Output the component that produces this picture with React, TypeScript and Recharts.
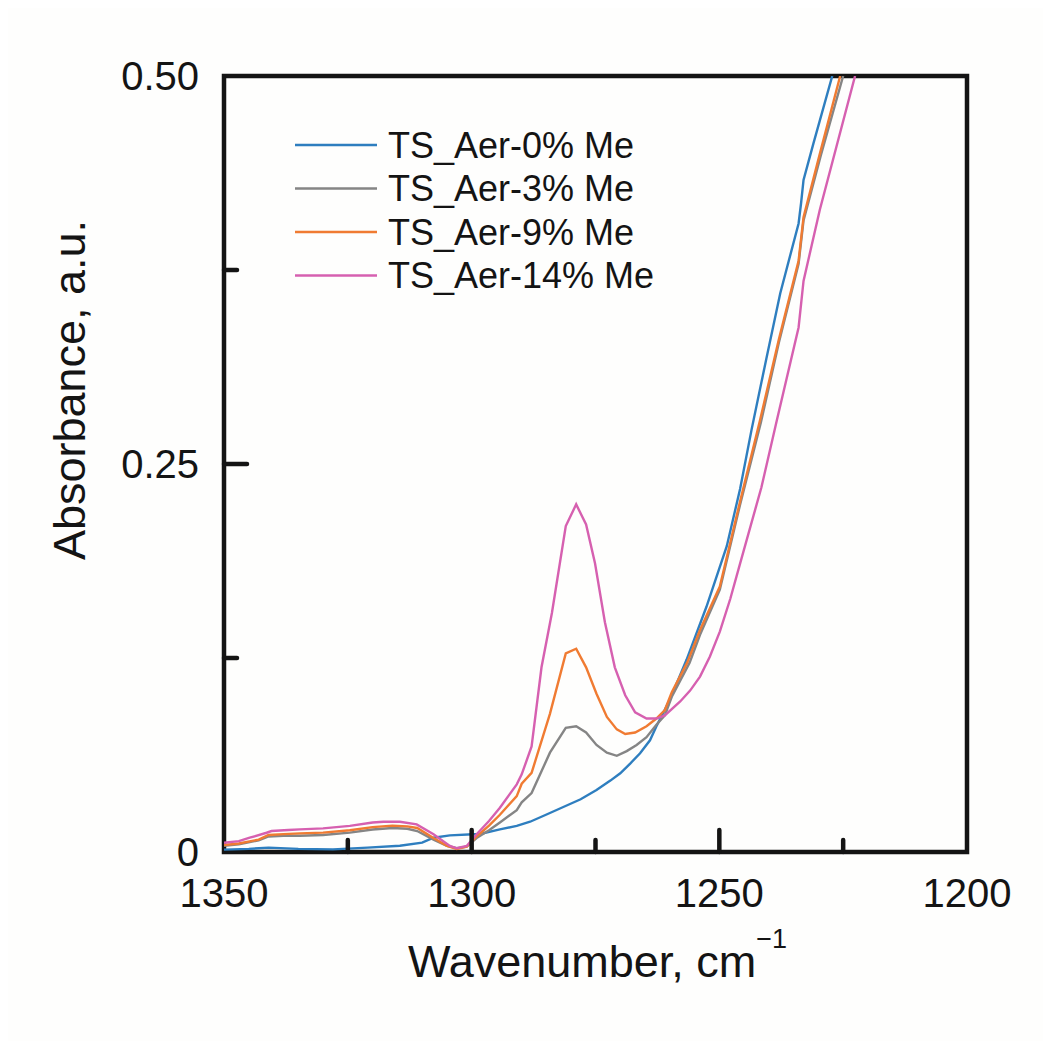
import React from 'react';
import { LineChart, Line, XAxis, YAxis, ReferenceArea, Label } from 'recharts';

// ---- data (wavenumber in cm^-1, absorbance in a.u.) ----
const wave0 = [1350, 1345, 1341, 1335, 1328, 1321, 1314.5, 1310, 1307.7, 1304.4, 1299.7, 1298.3, 1294.3, 1290.9, 1288.2, 1285, 1281.5, 1278, 1274.8, 1272, 1270, 1268, 1266, 1264, 1262.7, 1260, 1256.6, 1252.6, 1248.5, 1245.8, 1243.5, 1240.5, 1237.7, 1234, 1233.5, 1233, 1231, 1227.2];
const abs0 = [0.0015, 0.002, 0.0028, 0.002, 0.0017, 0.0028, 0.004, 0.006, 0.0092, 0.0107, 0.0114, 0.0116, 0.0146, 0.0168, 0.0195, 0.024, 0.029, 0.034, 0.04, 0.046, 0.0507, 0.057, 0.0636, 0.072, 0.081, 0.098, 0.124, 0.158, 0.197, 0.234, 0.272, 0.318, 0.36, 0.405, 0.418, 0.433, 0.4566, 0.5];

const wave3 = [1350, 1347, 1343, 1341, 1338, 1334.7, 1330, 1324.6, 1320, 1316, 1313, 1311, 1307.7, 1305, 1303, 1301, 1299, 1296.5, 1294.3, 1290.9, 1289.9, 1287.9, 1284.2, 1281, 1278.9, 1276.9, 1274.8, 1272.7, 1270.7, 1268.7, 1266.7, 1264.7, 1262.7, 1261, 1259.6, 1256, 1253.9, 1249.9, 1245.8, 1241.6, 1238, 1234, 1233, 1229.5, 1225];
const abs3 = [0.004, 0.005, 0.0075, 0.01, 0.0105, 0.0105, 0.011, 0.0125, 0.0145, 0.0155, 0.015, 0.0135, 0.008, 0.004, 0.0025, 0.0035, 0.009, 0.014, 0.019, 0.027, 0.032, 0.038, 0.064, 0.08, 0.081, 0.077, 0.069, 0.064, 0.062, 0.065, 0.069, 0.074, 0.082, 0.088, 0.1, 0.122, 0.14, 0.169, 0.224, 0.277, 0.328, 0.379, 0.407, 0.449, 0.5];

const wave9 = [1350, 1347, 1343, 1341, 1338, 1334.7, 1330, 1324.6, 1320, 1316, 1313, 1311, 1307.7, 1305, 1303, 1301, 1299, 1296.5, 1294.3, 1290.9, 1289.9, 1287.9, 1284.2, 1281, 1278.9, 1276.9, 1274.8, 1272.7, 1270.7, 1269, 1267, 1264.7, 1262.7, 1261, 1259.6, 1256.5, 1253.9, 1249.9, 1245.8, 1241.8, 1238, 1234, 1233, 1229.7, 1225.6];
const abs9 = [0.0045, 0.0055, 0.008, 0.011, 0.0115, 0.012, 0.0125, 0.014, 0.016, 0.017, 0.0165, 0.0155, 0.009, 0.004, 0.002, 0.0035, 0.01, 0.017, 0.024, 0.036, 0.044, 0.051, 0.089, 0.128, 0.131, 0.119, 0.102, 0.087, 0.079, 0.076, 0.077, 0.081, 0.086, 0.0915, 0.103, 0.122, 0.143, 0.171, 0.226, 0.278, 0.33, 0.381, 0.409, 0.45, 0.5];

const wave14 = [1350, 1347, 1344.8, 1341.4, 1340.4, 1337, 1334.7, 1330, 1324.6, 1320, 1317.8, 1314.5, 1311.1, 1307.7, 1304.4, 1303, 1301, 1299, 1296.5, 1294.3, 1290.9, 1289.9, 1287.9, 1285.9, 1283.8, 1281, 1278.9, 1276.9, 1275.1, 1273.1, 1271.1, 1269, 1267, 1264.7, 1262.7, 1261, 1257.9, 1255.9, 1253.9, 1251.9, 1249.9, 1247.8, 1245.8, 1241.5, 1238.4, 1234, 1233, 1229.7, 1222.6];
const abs14 = [0.006, 0.007, 0.0092, 0.0124, 0.0135, 0.0142, 0.0146, 0.0152, 0.0168, 0.019, 0.0195, 0.0195, 0.0178, 0.0114, 0.0039, 0.0024, 0.0039, 0.0114, 0.02, 0.0285, 0.0436, 0.05, 0.068, 0.119, 0.154, 0.21, 0.224, 0.211, 0.186, 0.148, 0.119, 0.101, 0.09, 0.086, 0.086, 0.088, 0.097, 0.104, 0.113, 0.126, 0.142, 0.163, 0.186, 0.235, 0.278, 0.338, 0.368, 0.414, 0.5];

const seriesNames = ['TS_Aer-0% Me', 'TS_Aer-3% Me', 'TS_Aer-9% Me', 'TS_Aer-14% Me'];
const seriesColors = ['#2e7ebf', '#858585', '#f07b32', '#d660b0'];

const xTicks = [1350, 1325, 1300, 1275, 1250, 1225, 1200];
const xLabeled = [1350, 1300, 1250, 1200];
const yTicks = [0, 0.125, 0.25, 0.375, 0.5];
const yLabels: Record<string, string> = { '0': '0', '0.25': '0.25', '0.5': '0.50' };

const toRows = (w: number[], a: number[]) => w.map((v, i) => ({ w: v, a: a[i] }));
const seriesData = [toRows(wave0, abs0), toRows(wave3, abs3), toRows(wave9, abs9), toRows(wave14, abs14)];

const FONT = '"Liberation Sans", Arial, Helvetica, sans-serif';
const INK = '#141414';
const TM = 10;

const XTick = (props: any) => {
  const { x, y, payload } = props;
  const v = payload.value;
  const base = y - TM;
  const major = xLabeled.includes(v);
  const edge = v === 1350 || v === 1200;
  const len = major ? 22 : 12;
  return (
    <g>
      {!edge && (
        <line x1={x} x2={x} y1={base} y2={base - len} stroke={INK} strokeWidth={4.5} strokeLinecap="round" />
      )}
      {major && (
        <text x={x} y={base + 55} textAnchor="middle" fontSize={40} fontFamily={FONT} fill={INK}>
          {v}
        </text>
      )}
    </g>
  );
};

const YTick = (props: any) => {
  const { x, y, payload } = props;
  const v = payload.value;
  const left = x + TM;
  const label = yLabels[String(v)];
  const major = label !== undefined;
  const edge = v === 0 || v === 0.5;
  const len = major ? 23 : 13;
  return (
    <g>
      {!edge && (
        <line x1={left} x2={left + len} y1={y} y2={y} stroke={INK} strokeWidth={4.5} strokeLinecap="round" />
      )}
      {major && (
        <text x={left - 25} y={y} dy="0.36em" textAnchor="end" fontSize={40} fontFamily={FONT} fill={INK}>
          {label}
        </text>
      )}
    </g>
  );
};

const XTitle = (props: any) => {
  const vb = props.viewBox || { x: 0, y: 0, width: 0 };
  const cx = vb.x + vb.width / 2 + 2;
  return (
    <text x={cx} y={vb.y + 125} textAnchor="middle" fontSize={45} fontFamily={FONT} fill={INK}>
      <tspan>Wavenumber, cm</tspan>
      <tspan dy={-29} fontSize={27}>−1</tspan>
    </text>
  );
};

const YTitle = () => (
  <text
    x={77}
    y={382}
    transform="rotate(-90 77 382)"
    textAnchor="middle"
    fontSize={45}
    fontFamily={FONT}
    fill={INK}
  >
    Absorbance, a.u.
  </text>
);

const LegendBox = () => (
  <svg
    width={420}
    height={180}
    style={{ position: 'absolute', left: 280, top: 115, overflow: 'visible', pointerEvents: 'none' }}
  >
    {seriesNames.map((name, i) => {
      const cy = 22 + i * 43.5;
      return (
        <g key={name}>
          <line x1={7} x2={89} y1={cy} y2={cy} stroke={seriesColors[i]} strokeWidth={2.5} />
          <text x={100} y={cy} dy="0.36em" fontSize={36} fontFamily={FONT} fill={INK}>
            {name}
          </text>
        </g>
      );
    })}
  </svg>
);

export default function App() {
  return (
    <div style={{ position: 'relative', width: 1035, height: 1033, background: '#fefefd' }}>
      <LineChart width={1035} height={1033} margin={{ top: 68, right: 76, left: 0, bottom: 0 }}>
        <XAxis
          type="number"
          dataKey="w"
          domain={[1200, 1350]}
          reversed
          ticks={xTicks}
          interval={0}
          allowDataOverflow
          axisLine={false}
          tickLine={false}
          tickSize={0}
          tickMargin={TM}
          tick={<XTick />}
          height={189}
        >
          <Label content={<XTitle />} />
        </XAxis>
        <YAxis
          type="number"
          dataKey="a"
          domain={[0, 0.5]}
          ticks={yTicks}
          interval={0}
          allowDataOverflow
          axisLine={false}
          tickLine={false}
          tickSize={0}
          tickMargin={TM}
          tick={<YTick />}
          width={216}
        >
          <Label content={<YTitle />} />
        </YAxis>
        {seriesData.map((d, i) => (
          <Line
            key={seriesNames[i]}
            data={d}
            dataKey="a"
            name={seriesNames[i]}
            type="linear"
            stroke={seriesColors[i]}
            strokeWidth={2.4}
            dot={false}
            activeDot={false}
            isAnimationActive={false}
          />
        ))}
        <ReferenceArea
          x1={1350}
          x2={1200}
          y1={0}
          y2={0.5}
          fill="none"
          stroke={INK}
          strokeWidth={4.5}
          ifOverflow="visible"
        />
      </LineChart>
      <LegendBox />
    </div>
  );
}
